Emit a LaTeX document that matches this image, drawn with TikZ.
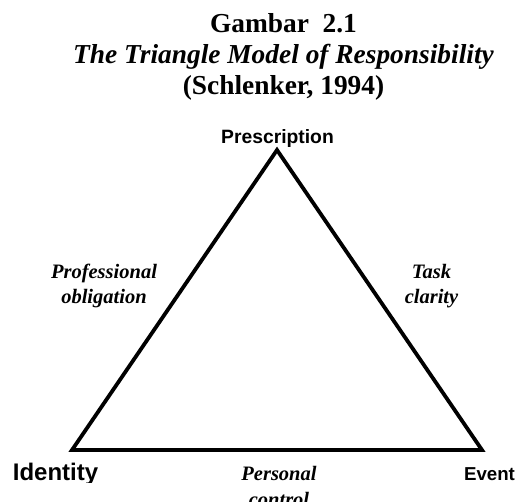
\documentclass[tikz,border=0pt]{standalone}
\usepackage{fontspec}
\setmainfont{Liberation Serif}
\newfontfamily\labelsans{Liberation Sans}
\begin{document}
\begin{tikzpicture}[x=1pt,y=-1pt,
  titletext/.style={font=\fontsize{27.4}{31}\selectfont\bfseries, align=center, anchor=base, inner sep=0pt},
  vertex/.style={font=\labelsans\bfseries, anchor=base, inner sep=0pt},
  sidelabel/.style={font=\fontsize{20.5}{24.5}\selectfont\bfseries\itshape, align=center, anchor=base, inner sep=0pt},
  edge/.style={line width=3.8pt, line join=miter}]
  \useasboundingbox (0,0) rectangle (518,501);

  % heading (base anchor sits on the last line)
  \node[titletext] (title) at (283.5,94)
    {Gambar\ \ 2.1\\ \textit{The Triangle Model of Responsibility}\\ (Schlenker, 1994)};

  % triangle corners
  \coordinate (top) at (277,150);
  \coordinate (left) at (72,450);
  \coordinate (right) at (482,450);
  \draw[edge] (top) -- (left) -- (right) -- cycle;

  % corner labels
  \node[vertex, font=\labelsans\bfseries\fontsize{19.3}{22}\selectfont] (prescription) at (277.5,143) {Prescription};
  \begin{scope}
    \clip (0,455) rectangle (120,482);
    \node[vertex, font=\labelsans\bfseries\fontsize{24}{28}\selectfont] (identity) at (55.5,480) {Identity};
  \end{scope}
  \node[vertex, font=\labelsans\bfseries\fontsize{18.7}{22}\selectfont] (event) at (489.5,480) {Event};

  % side labels (base anchor sits on the last line)
  \node[sidelabel] (obligation) at (104,303) {Professional\\obligation};
  \node[sidelabel] (clarity) at (431.5,303) {Task\\clarity};
  \node[sidelabel, font=\fontsize{20.5}{26}\selectfont\bfseries\itshape] (control) at (279,506) {Personal\\control};
\end{tikzpicture}
\end{document}
